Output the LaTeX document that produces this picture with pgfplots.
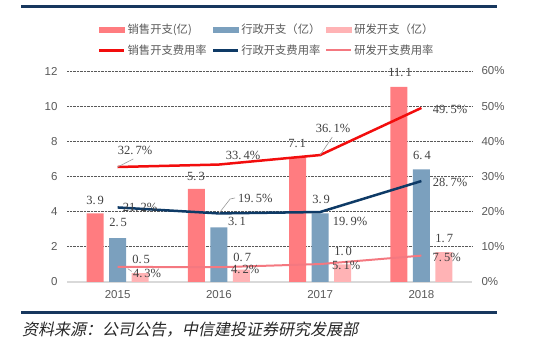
\documentclass[border=0pt]{standalone}
\usepackage{fontspec}
\setmainfont{Liberation Sans}
\newfontfamily\cjk{Noto Sans CJK SC}
\newfontfamily\cjkit{Noto Sans CJK SC}[FakeSlant=0.2]
\newfontfamily\numf{Liberation Serif}
\usepackage{pgfplots}
\pgfplotsset{compat=1.18}
\definecolor{navyrule}{HTML}{17375E}
\definecolor{salesc}{HTML}{FF7C80}
\definecolor{adminc}{HTML}{7BA0BE}
\definecolor{rdc}{HTML}{FFB3B5}
\definecolor{salesl}{HTML}{F20D0D}
\definecolor{adminl}{HTML}{0E3A66}
\definecolor{rdl}{HTML}{F47880}
\definecolor{gridc}{HTML}{595959}
\definecolor{axisgray}{HTML}{D9D9D9}
\definecolor{labgray}{HTML}{595959}
\definecolor{valc}{HTML}{404040}
\begin{document}
\begin{tikzpicture}[x=1pt,y=1pt]
\useasboundingbox (0,0) rectangle (554,353);
\fill[navyrule] (21,344.5) rectangle (497,347.5);
\fill[navyrule] (21,38.5) rectangle (497,41.5);
\node[anchor=west, font=\cjkit\fontsize{16}{18}\selectfont, text=black!85, inner sep=0pt] at (22,23) {资料来源：公司公告，中信建投证券研究发展部};

\begin{axis}[at={(67pt,71pt)}, anchor=south west, scale only axis,
  width=405pt, height=211pt, xmin=-0.5, xmax=3.5, ymin=0, ymax=12,
  xtick={0,1,2,3}, xticklabels={2015,2016,2017,2018},
  ytick={2,4,...,12}, extra y ticks={0},
  extra y tick style={grid style={solid, color=axisgray, line width=1.3pt}},
  ymajorgrids, grid style={densely dotted, gridc, line width=0.9pt},
  axis line style={draw=none}, major tick length=0pt,
  /pgf/number format/assume math mode=true,
  tick label style={font=\fontsize{11.5}{13}\selectfont, text=labgray},
  xticklabel style={yshift=-5pt}, yticklabel style={xshift=-6pt},
  clip=false]
\addplot[ybar, bar width=17pt, bar shift=-22.5pt, fill=salesc, draw=none] coordinates {(0,3.9) (1,5.3) (2,7.1) (3,11.1)};
\addplot[ybar, bar width=17pt, bar shift=0pt, fill=adminc, draw=none] coordinates {(0,2.5) (1,3.1) (2,3.9) (3,6.4)};
\addplot[ybar, bar width=17pt, bar shift=22.5pt, fill=rdc, draw=none] coordinates {(0,0.5) (1,0.7) (2,1.0) (3,1.7)};
\begin{scope}[every node/.style={font=\numf\fontsize{12.5}{14}\selectfont, text=valc, inner sep=0pt}]
\node at (axis cs:-0.222,4.66) {3.\,9};
\node at (axis cs:0.005,3.36) {2.\,5};
\node at (axis cs:0.232,1.31) {0.\,5};
\node at (axis cs:0.775,6.03) {5.\,3};
\node at (axis cs:1.18,3.47) {3.\,1};
\node at (axis cs:1.23,1.42) {0.\,7};
\node at (axis cs:1.773,7.90) {7.\,1};
\node at (axis cs:2.01,4.72) {3.\,9};
\node at (axis cs:2.227,1.76) {1.\,0};
\node at (axis cs:2.79,11.89) {11.\,1};
\node at (axis cs:3.007,7.17) {6.\,4};
\node at (axis cs:3.225,2.45) {1.\,7};
\end{scope}
\end{axis}

\begin{axis}[at={(67pt,71pt)}, anchor=south west, scale only axis,
  width=405pt, height=211pt, xmin=-0.5, xmax=3.5, ymin=0, ymax=60,
  axis y line*=right, axis x line=none,
  ytick={0,10,...,60}, yticklabel={\pgfmathprintnumber{\tick}\%},
  axis line style={draw=none}, major tick length=0pt,
  /pgf/number format/assume math mode=true,
  tick label style={font=\fontsize{11.5}{13}\selectfont, text=labgray},
  yticklabel style={xshift=6pt},
  clip=false,
  legend columns=3,
  legend style={at={(0.0765,1.235)}, anchor=north west, draw=none, fill=none,
    font=\cjk\fontsize{11.3}{13}\selectfont, text=labgray,
    /tikz/every even column/.append style={column sep=3pt},
    row sep=6pt, inner sep=0pt},
  legend cell align=left]
\addlegendimage{legend image code/.code={\fill[salesc] (0pt,-2.5pt) rectangle (25pt,2.5pt);}}
\addlegendimage{legend image code/.code={\fill[adminc] (0pt,-2.5pt) rectangle (25pt,2.5pt);}}
\addlegendimage{legend image code/.code={\fill[rdc] (0pt,-2.5pt) rectangle (25pt,2.5pt);}}
\addplot[salesl, line width=2.5pt, legend image code/.code={\draw[salesl, line width=2.5pt] (0pt,0pt)--(25pt,0pt);}] coordinates {(0,32.7) (1,33.4) (2,36.1) (3,49.5)};
\addplot[adminl, line width=2.5pt, legend image code/.code={\draw[adminl, line width=2.5pt] (0pt,0pt)--(25pt,0pt);}] coordinates {(0,21.2) (1,19.5) (2,19.9) (3,28.7)};
\addplot[rdl, line width=2pt, legend image code/.code={\draw[rdl, line width=2pt] (0pt,0pt)--(25pt,0pt);}] coordinates {(0,4.3) (1,4.2) (2,5.1) (3,7.5)};
\legend{销售开支(亿),行政开支（亿）,研发开支（亿）,销售开支费用率,行政开支费用率,研发开支费用率}
\draw[black!40, line width=0.6pt] (axis cs:0,32.7) -- (axis cs:0.155,35);
\draw[black!40, line width=0.6pt] (axis cs:2,36.1) -- (axis cs:2.12,41.2);
\draw[black!40, line width=0.6pt] (axis cs:1,19.5) -- (axis cs:1.111,23.6) -- (axis cs:1.16,23.9);
\draw[black!40, line width=0.6pt] (axis cs:0.1,3.8) -- (axis cs:0.14,3.0);
\begin{scope}[every node/.style={font=\numf\fontsize{12.5}{14}\selectfont, text=valc, inner sep=0pt}]
\node at (axis cs:0.173,37.5) {32.\,7\%};
\node at (axis cs:1.24,36.1) {33.\,4\%};
\node at (axis cs:2.128,43.8) {36.\,1\%};
\node at (axis cs:3.284,49.2) {49.\,5\%};
\node at (axis cs:0.222,21.3) {21.\,2\%};
\node at (axis cs:1.36,23.9) {19.\,5\%};
\node at (axis cs:2.296,17.1) {19.\,9\%};
\node at (axis cs:3.284,28.4) {28.\,7\%};
\node at (axis cs:0.291,2.56) {4.\,3\%};
\node at (axis cs:1.26,3.70) {4.\,2\%};
\node at (axis cs:2.257,4.83) {5.\,1\%};
\node at (axis cs:3.25,7.11) {7.\,5\%};
\end{scope}
\end{axis}
\end{tikzpicture}
\end{document}
